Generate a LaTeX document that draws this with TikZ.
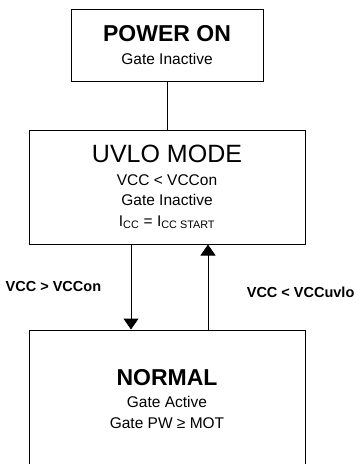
\documentclass[tikz,border=0pt]{standalone}
\usepackage{fontspec}
\setmainfont{Liberation Sans}
\usetikzlibrary{positioning,arrows.meta}

\tikzstyle{state} = [draw, rectangle, line width=1pt, align=center, inner sep=0pt,
                     font=\fontsize{15.5}{20.5}\selectfont]
\tikzstyle{cond} = [font=\bfseries\fontsize{14.5}{17}\selectfont]

\newcommand{\titleB}[1]{{\fontsize{23}{22}\selectfont\bfseries #1}}

\begin{document}
\begin{tikzpicture}[x=1pt, y=1pt, >={Triangle[width=15pt,length=11pt]}]

\clip (0,0) rectangle (364,-464);

\node[state,
      minimum width=192pt, minimum height=72pt]
      (pwr) at (167,-45) {\titleB{POWER ON}\\[3pt] Gate Inactive};

\node[state,
      below=48pt of pwr,
      minimum width=276pt, minimum height=114pt]
      (uvlo) {{\fontsize{25}{22}\selectfont UVLO MODE}\\[2pt]
              VCC < VCCon\\ Gate Inactive\\
              I\textsubscript{CC} = I\textsubscript{CC START}};

\node[state,
      below=85pt of uvlo,
      minimum width=276pt, minimum height=138pt]
      (normal) {\titleB{NORMAL}\\[2pt] Gate Active\\ Gate PW ≥ MOT};

\draw[line width=1pt]
     (pwr.south) -- (uvlo.north);

\draw[->,line width=1pt]
     ([xshift=-36pt]uvlo.south)
      -- node[cond,left=26pt]{VCC > VCCon}
     ([xshift=-36pt]normal.north);

\draw[->,line width=1pt]
     ([xshift=41pt]normal.north)
      -- node[cond,right=35pt,yshift=-5pt]{VCC < VCCuvlo}
     ([xshift=41pt]uvlo.south);

\end{tikzpicture}
\end{document}
